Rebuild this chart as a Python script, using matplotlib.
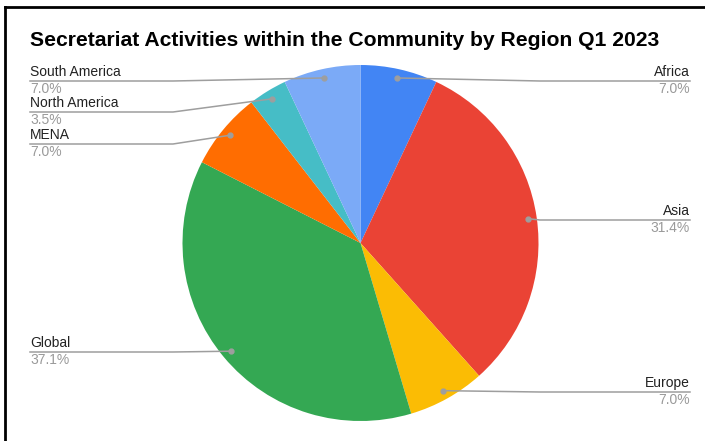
import matplotlib.pyplot as plt
import numpy as np

plt.rcParams['font.family'] = ['Liberation Sans', 'DejaVu Sans']

regions = ['Africa', 'Asia', 'Europe', 'Global', 'MENA', 'North America', 'South America']
shares = [7.0, 31.4, 7.0, 37.1, 7.0, 3.5, 7.0]
colors = ['#4285F4', '#EA4335', '#FBBC04', '#34A853', '#FF6D01', '#46BDC6', '#7BAAF7']

W, H = 705, 441
fig = plt.figure(figsize=(W / 100, H / 100), dpi=100)
ax = fig.add_axes([0, 0, 1, 1])

cx, cy, R = 360.5, H - 243, 178
wedges, _ = ax.pie(shares, colors=colors, startangle=90, counterclock=False,
                   center=(cx, cy), radius=R, wedgeprops=dict(linewidth=0))

ax.set_xlim(0, W)
ax.set_ylim(0, H)
ax.set_aspect('equal')
ax.axis('off')

# label rows (pixel y of the underline), side of the chart
label_rows = {'Africa': ('right', 81), 'Asia': ('right', 220), 'Europe': ('right', 392),
              'Global': ('left', 352), 'MENA': ('left', 144),
              'North America': ('left', 112), 'South America': ('left', 81)}

line_col = '#9e9e9e'
for w, name, pct in zip(wedges, regions, shares):
    mid = np.deg2rad((w.theta1 + w.theta2) / 2)
    dx = cx + 0.95 * R * np.cos(mid)
    dy = cy + 0.95 * R * np.sin(mid)
    side, ly = label_rows[name]
    ly = H - ly
    if side == 'left':
        x0, elbow, ha = 30, 173, 'left'
    else:
        x0, elbow, ha = 690, 540, 'right'
    if side == 'left' and dx < elbow:
        elbow = dx
    if side == 'right' and dx > elbow:
        elbow = dx
    ax.plot([x0, elbow, dx], [ly, ly, dy], color=line_col, lw=1.1, zorder=3)
    ax.plot(dx, dy, 'o', color=line_col, ms=3.5, zorder=4)
    ax.text(x0, ly + 2, name, ha=ha, va='bottom', fontsize=10, color='#222222')
    ax.text(x0, ly - 1, f'{pct:.1f}%', ha=ha, va='top', fontsize=10, color='#9a9a9a')

ax.text(30, H - 40, 'Secretariat Activities within the Community by Region Q1 2023',
        ha='left', va='center', fontsize=15.2, fontweight='bold', color='black')

# frame of the screenshot
ax.plot([5, 5], [0, H - 7], color='black', lw=2, solid_capstyle='projecting')
ax.plot([5, W], [H - 7, H - 7], color='black', lw=2, solid_capstyle='projecting')

fig.savefig('out.png', dpi=100)
